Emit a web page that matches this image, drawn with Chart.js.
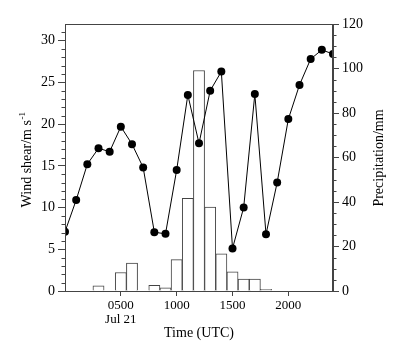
<!DOCTYPE html>
<html>
<head>
<meta charset="utf-8">
<script src="https://cdn.jsdelivr.net/npm/chart.js@4"></script>
<style>
  html, body { margin: 0; padding: 0; background: #fff; font-family: "Liberation Serif", serif; }
  #wrap { width: 402px; height: 347px; }
</style>
</head>
<body>
<div id="wrap"><canvas id="shearChart"></canvas></div>
<script>
// Hourly wind shear (m/s), 0000 to 2400 UTC
const hours = [0, 1, 2, 3, 4, 5, 6, 7, 8, 9, 10, 11, 12, 13, 14, 15, 16, 17, 18, 19, 20, 21, 22, 23, 24];
const windShear = [7.1, 10.9, 15.2, 17.1, 16.7, 19.7, 17.6, 14.8, 7.05, 6.85, 14.5, 23.5, 17.7,
                   24.0, 26.3, 5.1, 10.0, 23.6, 6.8, 13.0, 20.6, 24.7, 27.8, 28.9, 28.4];

// Hourly precipitation (mm)
const rainHours = [3, 5, 6, 8, 9, 10, 11, 12, 13, 14, 15, 16, 17, 18];
const precipitation = [2.3, 8.3, 12.5, 2.6, 1.4, 14.1, 41.6, 99.1, 37.7, 16.7, 8.6, 5.4, 5.4, 0.8];

const shearTicks = [0, 5, 10, 15, 20, 25, 30];
const rainTicks = [0, 20, 40, 60, 80, 100, 120];
const timeTicks = [5, 10, 15, 20];

const FONT = '"Liberation Serif", "Times New Roman", serif';
const INK = '#444';

function fixTicks(values) {
  return scale => { scale.ticks = values.map(v => ({ value: v })); };
}

// minor tick marks, plot frame and the axis titles
const decorations = {
  id: 'decorations',
  afterDraw(chart) {
    const { ctx, chartArea: a, scales } = chart;
    ctx.save();
    ctx.strokeStyle = INK;
    ctx.lineWidth = 1;
    ctx.beginPath();
    for (let v = 1; v < 32; v++) {
      if (v % 5 === 0) continue;
      const y = Math.round(scales.y.getPixelForValue(v)) + 0.5;
      ctx.moveTo(a.left - 3.5, y);
      ctx.lineTo(a.left, y);
    }
    for (let v = 5; v < 120; v += 5) {
      if (v % 20 === 0) continue;
      const y = Math.round(scales.y2.getPixelForValue(v)) + 0.5;
      ctx.moveTo(a.right, y);
      ctx.lineTo(a.right + 3.5, y);
    }
    ctx.stroke();
    ctx.strokeRect(a.left + 0.5, a.top + 0.5, a.right - a.left - 1, a.bottom - a.top);

    ctx.fillStyle = '#000';
    ctx.textBaseline = 'middle';

    // left title with superscript
    const main = 'Wind shear/m s';
    const sup = '-1';
    ctx.font = '14px ' + FONT;
    const wMain = ctx.measureText(main).width;
    ctx.font = '9px ' + FONT;
    const wSup = ctx.measureText(sup).width;
    ctx.save();
    ctx.translate(27.5, 160);
    ctx.rotate(-Math.PI / 2);
    const x0 = -(wMain + wSup) / 2;
    ctx.textAlign = 'left';
    ctx.font = '14px ' + FONT;
    ctx.fillText(main, x0, 0);
    ctx.font = '9px ' + FONT;
    ctx.fillText(sup, x0 + wMain + 0.5, -5);
    ctx.restore();

    // right title
    ctx.save();
    ctx.translate(379.5, 158);
    ctx.rotate(-Math.PI / 2);
    ctx.textAlign = 'center';
    ctx.font = '14px ' + FONT;
    ctx.fillText('Precipitation/mm', 0, 0);
    ctx.restore();

    // bottom title
    ctx.textAlign = 'center';
    ctx.font = '14px ' + FONT;
    ctx.fillText('Time (UTC)', (a.left + a.right) / 2, 333);
    ctx.restore();
  }
};

const ctx = document.getElementById('shearChart').getContext('2d');
const shearChart = new Chart(ctx, {
  type: 'line',
  data: {
    datasets: [{
      type: 'line',
      label: 'Wind shear',
      data: hours.map((h, i) => ({ x: h, y: windShear[i] })),
      yAxisID: 'y',
      borderColor: '#000',
      borderWidth: 1,
      backgroundColor: '#000',
      pointRadius: 4,
      pointBorderWidth: 0,
      tension: 0,
      order: 0
    }, {
      type: 'bar',
      label: 'Precipitation',
      data: rainHours.map((h, i) => ({ x: h, y: precipitation[i] })),
      yAxisID: 'y2',
      backgroundColor: '#fff',
      borderColor: INK,
      borderWidth: 1,
      barPercentage: 1,
      categoryPercentage: 1,
      order: 1
    }]
  },
  options: {
    responsive: true,
    maintainAspectRatio: false,
    animation: false,
    devicePixelRatio: 1,
    layout: { padding: { top: 24, left: 0, right: 0, bottom: 0 } },
    plugins: {
      legend: { display: false },
      tooltip: { enabled: false }
    },
    scales: {
      x: {
        type: 'linear',
        min: 0,
        max: 24,
        offset: false,
        afterBuildTicks: fixTicks(timeTicks),
        afterFit: s => { s.height = 56; },
        border: { color: INK },
        grid: { drawOnChartArea: false, offset: false, tickLength: 5, color: INK },
        ticks: {
          padding: 2,
          color: '#000',
          font: { family: FONT, size: 13, lineHeight: 1.1 },
          maxRotation: 0,
          callback: v => v === 5 ? ['0500', 'Jul 21'] : String(v * 100).padStart(4, '0')
        }
      },
      y: {
        position: 'left',
        min: 0,
        max: 32,
        afterBuildTicks: fixTicks(shearTicks),
        afterFit: s => { s.width = 65; },
        border: { color: INK },
        grid: { drawOnChartArea: false, tickLength: 7, color: INK },
        ticks: {
          padding: 3,
          color: '#000',
          font: { family: FONT, size: 14 }
        }
      },
      y2: {
        position: 'right',
        min: 0,
        max: 120,
        afterBuildTicks: fixTicks(rainTicks),
        afterFit: s => { s.width = 69; },
        border: { color: INK },
        grid: { drawOnChartArea: false, tickLength: 6, color: INK },
        ticks: {
          padding: 3,
          color: '#000',
          font: { family: FONT, size: 14 }
        }
      }
    }
  },
  plugins: [decorations]
});
</script>
</body>
</html>
